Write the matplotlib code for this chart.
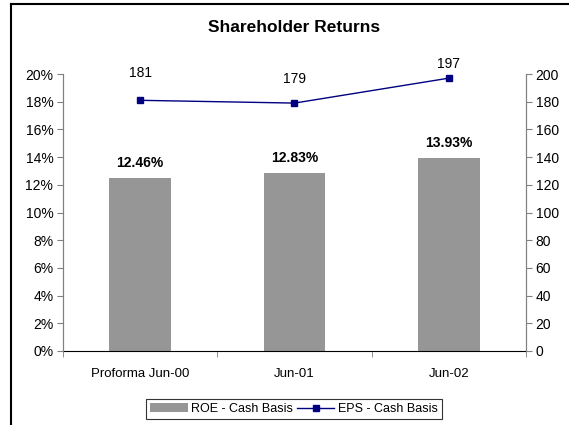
import matplotlib.pyplot as plt
from matplotlib.lines import Line2D
from matplotlib.ticker import FuncFormatter, MultipleLocator
import numpy as np

plt.rcParams['font.family'] = ['Liberation Sans', 'DejaVu Sans']

categories = ["Proforma Jun-00", "Jun-01", "Jun-02"]
roe = [0.1246, 0.1283, 0.1393]
eps = [181, 179, 197]
roe_labels = ["12.46%", "12.83%", "13.93%"]

bar_color = "#969696"
line_color = "#000080"

fig = plt.figure(figsize=(5.69, 4.25), dpi=100)
ax = fig.add_axes([63 / 569, 1 - 351 / 425, (526 - 63) / 569, (351 - 74) / 425])
ax2 = ax.twinx()

x = np.arange(len(categories))
bars = ax.bar(x, roe, width=0.4, color=bar_color, zorder=2, label="ROE - Cash Basis")
for xi, v, lab in zip(x, roe, roe_labels):
    ax.annotate(lab, (xi, v), xytext=(0, 11), textcoords="offset points",
                ha="center", va="center", fontsize=10, fontweight="bold")

ln, = ax2.plot(x, eps, color=line_color, marker="s", markersize=5, lw=1,
               label="EPS - Cash Basis")
# excel put the point labels at slightly odd heights
eps_offsets = [19.5, 17, 10]
for xi, v, off in zip(x, eps, eps_offsets):
    ax2.annotate(str(v), (xi, v), xytext=(0, off), textcoords="offset points",
                 ha="center", va="center", fontsize=10)

ax.set_xlim(-0.5, 2.5)
ax.set_ylim(0, 0.2)
ax2.set_ylim(0, 200)
ax.yaxis.set_major_locator(MultipleLocator(0.02))
ax.yaxis.set_major_formatter(FuncFormatter(lambda v, p: "%d%%" % round(v * 100)))
ax2.yaxis.set_major_locator(MultipleLocator(20))

ax.set_xticks(x)
ax.set_xticklabels(categories)
ax.set_xticks(np.arange(-0.5, 3, 1), minor=True)
ax.tick_params(axis="x", which="major", length=0, pad=12, labelsize=9.5)
ax.tick_params(axis="x", which="minor", length=4, direction="out", color="#808080")
ax.tick_params(axis="y", length=4, direction="out", color="#808080", labelsize=10, pad=3)
ax2.tick_params(axis="y", length=4, direction="out", color="#808080", labelsize=10, pad=3)

for a in (ax, ax2):
    a.spines["top"].set_visible(False)
    a.spines["left"].set_color("#808080")
    a.spines["right"].set_color("#808080")
    a.spines["bottom"].set_color("black")
ax2.spines["bottom"].set_visible(False)

fig.text(294 / 569, 1 - 27 / 425, "Shareholder Returns", ha="center", va="center",
         fontsize=12.5, fontweight="bold")

leg = fig.legend(handles=[bars, ln], loc="center", bbox_to_anchor=(294 / 569, 1 - 409 / 425),
                 ncol=2, fontsize=9, frameon=True, fancybox=False, edgecolor="black",
                 handlelength=3, handletextpad=0.3, columnspacing=0.3, borderpad=0.3)
leg.get_frame().set_linewidth(0.8)

# outer chart frame (cropped on right and bottom)
fig.add_artist(Line2D([11 / 569, 11 / 569], [0, 1 - 4 / 425], color="black", lw=1.5))
fig.add_artist(Line2D([11 / 569, 1], [1 - 4 / 425, 1 - 4 / 425], color="black", lw=1.5))

fig.savefig("out.png", dpi=100)
